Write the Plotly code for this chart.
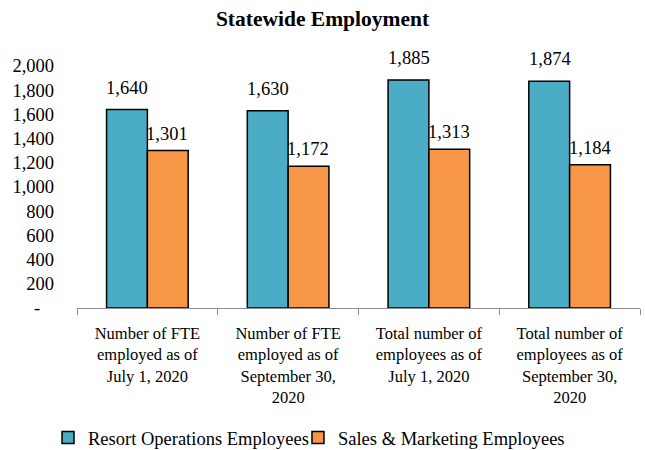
import plotly.graph_objects as go

categories = [
    'Number of FTE<br>employed as of<br>July 1, 2020',
    'Number of FTE<br>employed as of<br>September 30,<br>2020',
    'Total number of<br>employees as of<br>July 1, 2020',
    'Total number of<br>employees as of<br>September 30,<br>2020',
]
resort_ops = [1640, 1630, 1885, 1874]
sales_mkt = [1301, 1172, 1313, 1184]
y_ticks = [0, 200, 400, 600, 800, 1000, 1200, 1400, 1600, 1800, 2000]
y_ticktext = ['-\u00a0\u00a0\u00a0'] + [f'{v:,}' for v in y_ticks[1:]]

FONT = 'Liberation Serif, Times New Roman, serif'

fig = go.Figure()
fig.add_trace(go.Bar(
    x=categories, y=resort_ops, name='Resort Operations Employees',
    marker=dict(color='#4BACC6', line=dict(color='black', width=1.5)),
    legend='legend',
))
fig.add_trace(go.Bar(
    x=categories, y=sales_mkt, name='Sales & Marketing Employees',
    marker=dict(color='#F79646', line=dict(color='black', width=1.5)),
    legend='legend2',
))

# value labels sit a bit above the bars, like the Excel original
for i, cat in enumerate(categories):
    fig.add_annotation(x=cat, y=resort_ops[i], text=f'{resort_ops[i]:,}',
                       showarrow=False, xshift=-20, yshift=22,
                       font=dict(family=FONT, size=18.5, color='black'))
    fig.add_annotation(x=cat, y=sales_mkt[i], text=f'{sales_mkt[i]:,}',
                       showarrow=False, xshift=20, yshift=17,
                       font=dict(family=FONT, size=18.5, color='black'))

legend_style = dict(orientation='h', xanchor='left', y=-0.537, yanchor='middle',
                    font=dict(family=FONT, size=18.5, color='black'),
                    itemclick=False, bgcolor='rgba(0,0,0,0)')

fig.update_layout(
    title=dict(text='<b>Statewide Employment</b>', x=0.5, xanchor='center',
               yref='container', y=1 - 18 / 450, yanchor='middle',
               font=dict(family=FONT, size=21.5, color='black')),
    width=645, height=450,
    margin=dict(l=77, r=5, t=66, b=142, autoexpand=False),
    barmode='group', bargap=0.42, bargroupgap=0,
    plot_bgcolor='white', paper_bgcolor='white',
    font=dict(family=FONT, size=18.5, color='black'),
    showlegend=True,
    legend=dict(x=-0.0515, **legend_style),
    legend2=dict(x=0.3925, **legend_style),
    xaxis=dict(showline=True, linecolor='#8c8c8c', linewidth=1, automargin=False,
               ticks='outside', tickson='boundaries', ticklen=6, tickcolor='#8c8c8c',
               ticklabelstandoff=10,
               tickfont=dict(family=FONT, size=16.5, color='black')),
    yaxis=dict(range=[0, 2000], tickvals=y_ticks, ticktext=y_ticktext,
               showgrid=False, zeroline=False, showline=False, automargin=False,
               ticks='', ticklabelstandoff=22,
               tickfont=dict(family=FONT, size=18.5, color='black')),
)

fig.write_html('out.html', config={'displayModeBar': False},
               post_script="document.body.style.margin='0';")
